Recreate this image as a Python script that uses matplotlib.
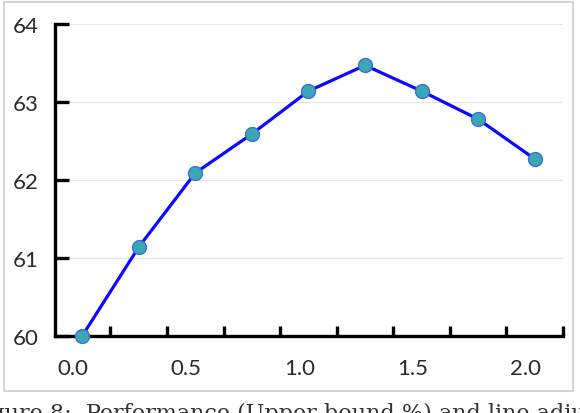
import matplotlib
matplotlib.use("Agg")
import matplotlib.pyplot as plt
import matplotlib.transforms as mtransforms
from matplotlib.patches import Rectangle

# values
x_vals = [0.0, 0.25, 0.5, 0.75, 1.0, 1.25, 1.5, 1.75, 2.0]
y_vals = [60.0, 61.14, 62.09, 62.59, 63.14, 63.47, 63.14, 62.78, 62.27]
x_labels = ["0.0", "0.5", "1.0", "1.5", "2.0"]
x_label_pos = [0.0, 0.5, 1.0, 1.5, 2.0]
x_tick_pos = [0.125 + 0.25 * k for k in range(9)]
y_ticks = [60, 61, 62, 63, 64]
caption = "Figure 8:  Performance (Upper bound %) and line adjusted"

fig = plt.figure(figsize=(5.8, 4.14), dpi=100)
ax = fig.add_axes([55 / 580, 77 / 414, 508 / 580, 312 / 414])

# outer frame
fig.patches.append(Rectangle((4 / 580, 22 / 414), 569 / 580, 389 / 414,
                             transform=fig.transFigure, fill=False,
                             edgecolor="#cccccc", linewidth=1.2))

for yv in y_ticks[1:]:
    ax.axhline(yv, xmin=0.03, xmax=1.0, color="#e6e6e6", lw=0.9, zorder=0)

ax.plot(x_vals, y_vals, color="#0a0aff", lw=2.3, marker="o", ms=10,
        mfc="#3aa8b4", mec="#3f6fd6", mew=1.0, clip_on=False, zorder=3)

ax.set_xlim(-0.12, 2.12)
ax.set_ylim(60, 64)

ax.spines[["top", "right"]].set_visible(False)
for s in ("left", "bottom"):
    ax.spines[s].set_linewidth(2.4)
    ax.spines[s].set_capstyle("projecting")

ax.set_yticks(y_ticks)
ax.set_yticklabels([str(v) for v in y_ticks])
ax.tick_params(axis="y", direction="in", length=10, width=2.4, pad=12,
               labelsize=16, colors="black")

ax.set_xticks(x_tick_pos, minor=True)
ax.tick_params(axis="x", which="minor", direction="in", length=7.5,
               width=2.4, color="black")
ax.set_xticks(x_label_pos)
ax.set_xticklabels(x_labels)
ax.tick_params(axis="x", which="major", length=0, pad=16, labelsize=16)

off = mtransforms.ScaledTranslation(-9 / 100, 0, fig.dpi_scale_trans)
for lab in ax.get_xticklabels():
    lab.set_transform(lab.get_transform() + off)
for lab in ax.get_xticklabels() + ax.get_yticklabels():
    lab.set_fontfamily("Lato")
    lab.set_color("#2a2a2a")

fig.text(-0.055, 0.0, caption, fontsize=16, family="DejaVu Serif",
         va="center", ha="left", color="#333333")

fig.savefig("out.png", dpi=100)
